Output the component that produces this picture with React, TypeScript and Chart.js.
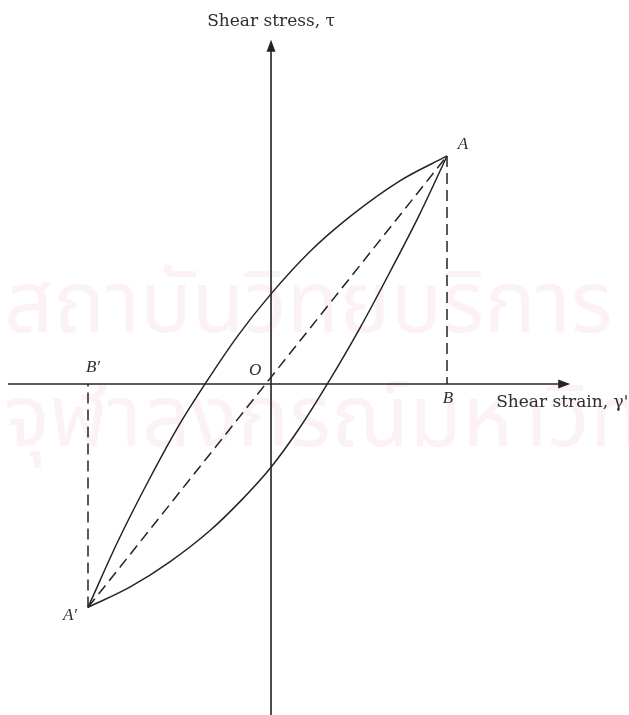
import React, { useEffect, useRef } from "react";
import { Chart, registerables } from "chart.js";

Chart.register(...registerables);

// Hysteresis loop of a soil element under cyclic shear (normalised: point A = (1, 1)).
const loadingStrain = [-1.04, -0.87, -0.7, -0.53, -0.375, -0.19, 0, 0.22, 0.45, 0.73, 1.0];
const loadingStress = [-0.98, -0.69, -0.43, -0.19, 0, 0.21, 0.395, 0.58, 0.735, 0.89, 1.0];
const unloadingStrain = [-1.04, -0.8, -0.575, -0.35, -0.175, 0, 0.165, 0.32, 0.505, 0.675, 0.845, 1.0];
const unloadingStress = [-0.98, -0.89, -0.78, -0.645, -0.515, -0.365, -0.19, 0, 0.245, 0.49, 0.745, 1.0];

// Peak points of the cycle
const pointA = { strain: 1.0, stress: 1.0 };
const pointAPrime = { strain: -1.04, stress: -0.98 };

// Axis extents (data units)
const strainAxisRange = [-1.495, 1.7];
const stressAxisTop = 1.51;

const xTitle = "Shear strain, \u03b3'";
const yTitle = "Shear stress, \u03c4";
const watermarkLines = ["\u0e2a\u0e16\u0e32\u0e1a\u0e31\u0e19\u0e27\u0e34\u0e17\u0e22\u0e1a\u0e23\u0e34\u0e01\u0e32\u0e23", "\u0e08\u0e38\u0e2c\u0e32\u0e25\u0e07\u0e01\u0e23\u0e13\u0e4c\u0e21\u0e2b\u0e32\u0e27\u0e34\u0e17\u0e22\u0e32\u0e25\u0e31\u0e22"];

const INK = "#242424";

const toPoints = (xs: number[], ys: number[]) => xs.map((x, i) => ({ x, y: ys[i] }));

const overlay = {
  id: "loopOverlay",
  beforeDraw(chart: any) {
    const ctx = chart.ctx;
    ctx.save();
    ctx.fillStyle = "#ffffff";
    ctx.fillRect(0, 0, chart.width, chart.height);
    ctx.fillStyle = "rgba(232, 170, 200, 0.16)";
    ctx.font = '86px "Noto Sans Thai", "Noto Sans", sans-serif';
    ctx.textBaseline = "alphabetic";
    ctx.textAlign = "left";
    ctx.fillText(watermarkLines[0], 4, 332);
    ctx.fillText(watermarkLines[1], 4, 446);
    ctx.restore();
  },
  beforeDatasetsDraw(chart: any) {
    const { ctx, scales } = chart;
    const xs = scales.x;
    const ys = scales.y;
    const x0 = xs.getPixelForValue(0);
    const y0 = ys.getPixelForValue(0);
    ctx.save();
    ctx.strokeStyle = INK;
    ctx.fillStyle = INK;
    ctx.lineWidth = 1.6;
    // strain axis
    const xl = xs.getPixelForValue(strainAxisRange[0]);
    const xr = xs.getPixelForValue(strainAxisRange[1]);
    ctx.beginPath();
    ctx.moveTo(xl, y0);
    ctx.lineTo(xr - 8, y0);
    ctx.stroke();
    ctx.beginPath();
    ctx.moveTo(xr, y0);
    ctx.lineTo(xr - 12, y0 - 4.5);
    ctx.lineTo(xr - 12, y0 + 4.5);
    ctx.closePath();
    ctx.fill();
    // stress axis
    const yt = ys.getPixelForValue(stressAxisTop);
    ctx.beginPath();
    ctx.moveTo(x0, chart.height);
    ctx.lineTo(x0, yt + 8);
    ctx.stroke();
    ctx.beginPath();
    ctx.moveTo(x0, yt);
    ctx.lineTo(x0 - 4.5, yt + 12);
    ctx.lineTo(x0 + 4.5, yt + 12);
    ctx.closePath();
    ctx.fill();
    ctx.restore();
  },
  afterDatasetsDraw(chart: any) {
    const { ctx, scales } = chart;
    const xs = scales.x;
    const ys = scales.y;
    const x0 = xs.getPixelForValue(0);
    const y0 = ys.getPixelForValue(0);
    const ax = xs.getPixelForValue(pointA.strain);
    const ay = ys.getPixelForValue(pointA.stress);
    const bx = xs.getPixelForValue(pointAPrime.strain);
    const by = ys.getPixelForValue(pointAPrime.stress);
    ctx.save();
    ctx.fillStyle = "#2e2e2e";
    ctx.textBaseline = "middle";
    ctx.textAlign = "center";
    ctx.font = '17px "DejaVu Serif", serif';
    ctx.fillText(yTitle, x0, 22);
    ctx.textAlign = "left";
    ctx.fillText(xTitle, xs.getPixelForValue(strainAxisRange[1]) - 74, y0 + 19);
    ctx.textAlign = "center";
    ctx.font = 'italic 17px "Liberation Serif", serif';
    ctx.fillText("A", ax + 16, ay - 11);
    ctx.fillText("A\u2032", bx - 18, by + 8);
    ctx.fillText("B", ax + 1, y0 + 15);
    ctx.fillText("B\u2032", bx + 5, y0 - 16);
    ctx.fillText("O", x0 - 16, y0 - 13);
    ctx.restore();
  },
};

export default function App() {
  const canvasRef = useRef<HTMLCanvasElement | null>(null);

  useEffect(() => {
    if (!canvasRef.current) return;
    const solid = { borderColor: INK, borderWidth: 1.5, pointRadius: 0, showLine: true, fill: false };
    const dashed = { ...solid, borderDash: [11, 6], borderWidth: 1.5 };
    const chart = new Chart(canvasRef.current, {
      type: "scatter",
      data: {
        datasets: [
          { ...solid, label: "loading", data: toPoints(loadingStrain, loadingStress), cubicInterpolationMode: "monotone" },
          { ...solid, label: "unloading", data: toPoints(unloadingStrain, unloadingStress), cubicInterpolationMode: "monotone" },
          { ...dashed, label: "secant", data: [{ x: pointAPrime.strain, y: pointAPrime.stress }, { x: pointA.strain, y: pointA.stress }] },
          { ...dashed, label: "AB", data: [{ x: pointA.strain, y: pointA.stress }, { x: pointA.strain, y: 0 }] },
          { ...dashed, label: "A'B'", data: [{ x: pointAPrime.strain, y: pointAPrime.stress }, { x: pointAPrime.strain, y: 0 }] },
        ] as any,
      },
      options: {
        animation: false,
        responsive: false,
        layout: { padding: 0 },
        plugins: { legend: { display: false }, tooltip: { enabled: false }, title: { display: false } },
        scales: {
          x: { type: "linear", min: -1.54, max: 2.034, display: false },
          y: { type: "linear", min: -1.452, max: 1.684, display: false },
        },
      },
      plugins: [overlay],
    });
    return () => chart.destroy();
  }, []);

  return (
    <div style={{ position: "absolute", left: 0, top: 0, width: 629, height: 715, background: "#fff" }}>
      <canvas ref={canvasRef} width={629} height={715} style={{ display: "block" }} />
    </div>
  );
}
